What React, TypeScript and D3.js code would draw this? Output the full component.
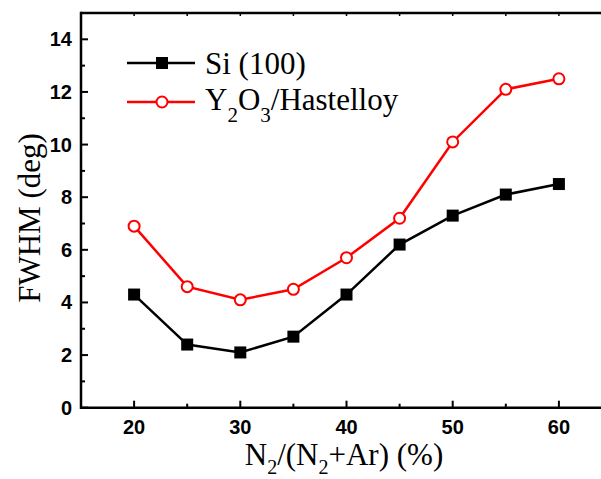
import React from "react";
import * as d3 from "d3";

const xValues = [20, 25, 30, 35, 40, 45, 50, 55, 60];
const siValues = [4.3, 2.4, 2.1, 2.7, 4.3, 6.2, 7.3, 8.1, 8.5];
const yhValues = [6.9, 4.6, 4.1, 4.5, 5.7, 7.2, 10.1, 12.1, 12.5];
const xTicks = [20, 30, 40, 50, 60];
const xMinorTicks = [15, 25, 35, 45, 55];
const yTicks = [0, 2, 4, 6, 8, 10, 12, 14];
const yMinorTicks = [1, 3, 5, 7, 9, 11, 13];

const W = 601;
const H = 479;

export default function App() {
  const x = d3.scaleLinear().domain([15, 65]).range([81, 612]);
  const y = d3.scaleLinear().domain([0, 15]).range([407.7, 13]);
  const line = d3
    .line<number>()
    .x((_, i) => x(xValues[i]))
    .y((d) => y(d));

  const sans = "'Liberation Sans', Arial, sans-serif";
  const serif = "'Liberation Serif', 'Times New Roman', serif";
  const x0 = x(15);
  const y0 = y(0);
  const y1 = y(15);

  return (
    <svg
      width={W}
      height={H}
      style={{ position: "absolute", left: 0, top: 0, background: "#fff", overflow: "hidden" }}
    >
      {/* frame */}
      <g stroke="#000" strokeWidth={2.5} fill="none">
        <line x1={x0} x2={W} y1={y0} y2={y0} />
        <line x1={x0} x2={W} y1={y1} y2={y1} />
        <line x1={x0} x2={x0} y1={y0 + 1.2} y2={y1 - 1.2} />
      </g>
      {/* ticks */}
      <g stroke="#000" strokeWidth={2}>
        {yTicks.map((t) => (
          <line key={"ym" + t} x1={x0} x2={x0 + 7} y1={y(t)} y2={y(t)} />
        ))}
        {yMinorTicks.map((t) => (
          <line key={"yn" + t} x1={x0} x2={x0 + 4} y1={y(t)} y2={y(t)} />
        ))}
        {xTicks.map((t) => (
          <line key={"xm" + t} x1={x(t)} x2={x(t)} y1={y0} y2={y0 - 7} />
        ))}
        {xMinorTicks.map((t) => (
          <line key={"xn" + t} x1={x(t)} x2={x(t)} y1={y0} y2={y0 - 4} />
        ))}
        {[...xTicks, ...xMinorTicks].map((t) => (
          <line key={"xt" + t} x1={x(t)} x2={x(t)} y1={y1} y2={y1 + 3} strokeWidth={1.5} />
        ))}
      </g>
      {/* tick labels */}
      <g fontFamily={sans} fontWeight="bold" fontSize={20} fill="#000">
        {yTicks.map((t) => (
          <text key={"yl" + t} x={72} y={y(t)} dy="0.35em" textAnchor="end">
            {t}
          </text>
        ))}
        {xTicks.map((t) => (
          <text key={"xl" + t} x={x(t)} y={434} textAnchor="middle">
            {t}
          </text>
        ))}
      </g>
      {/* axis titles */}
      <text
        fontFamily={serif}
        fontSize={31}
        textAnchor="middle"
        transform={`translate(40,218) rotate(-90)`}
      >
        FWHM (deg)
      </text>
      <text fontFamily={serif} fontSize={31} x={344} y={465} textAnchor="middle">
        N<tspan fontSize={20} dy={9}>2</tspan>
        <tspan dy={-9}>/(N</tspan>
        <tspan fontSize={20} dy={9}>2</tspan>
        <tspan dy={-9}>+Ar) (%)</tspan>
      </text>
      {/* series */}
      <path d={line(siValues) || ""} fill="none" stroke="#000" strokeWidth={2.5} />
      <path d={line(yhValues) || ""} fill="none" stroke="#ff0000" strokeWidth={2.5} />
      {siValues.map((v, i) => (
        <rect
          key={"s" + i}
          x={x(xValues[i]) - 6}
          y={y(v) - 6}
          width={12}
          height={12}
          fill="#000"
        />
      ))}
      {yhValues.map((v, i) => (
        <circle
          key={"c" + i}
          cx={x(xValues[i])}
          cy={y(v)}
          r={5.5}
          fill="#fff"
          stroke="#ff0000"
          strokeWidth={2}
        />
      ))}
      {/* legend */}
      <line x1={127} x2={195} y1={63} y2={63} stroke="#000" strokeWidth={2.5} />
      <rect x={156} y={57} width={12} height={12} fill="#000" />
      <text fontFamily={serif} fontSize={31} x={205} y={74}>
        Si (100)
      </text>
      <line x1={127} x2={195} y1={102} y2={102} stroke="#ff0000" strokeWidth={2.5} />
      <circle cx={162} cy={102} r={5.5} fill="#fff" stroke="#ff0000" strokeWidth={2} />
      <text fontFamily={serif} fontSize={31} x={205} y={110}>
        Y<tspan fontSize={21} dy={12}>2</tspan>
        <tspan dy={-12}>O</tspan>
        <tspan fontSize={21} dy={12}>3</tspan>
        <tspan dy={-12}>/Hastelloy</tspan>
      </text>
    </svg>
  );
}
